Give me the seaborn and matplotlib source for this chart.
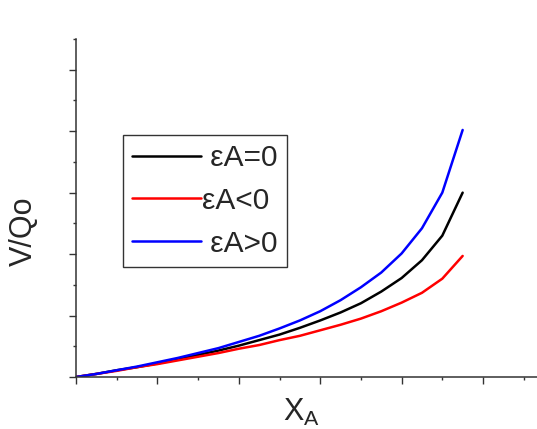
import matplotlib
matplotlib.use('Agg')
import matplotlib.pyplot as plt
from matplotlib.ticker import MultipleLocator, NullFormatter
import seaborn as sns
import pandas as pd

# conversion X_A (steps of 0.05)
x_a = [0.00, 0.05, 0.10, 0.15, 0.20, 0.25, 0.30, 0.35, 0.40, 0.45,
       0.50, 0.55, 0.60, 0.65, 0.70, 0.75, 0.80, 0.85, 0.90, 0.95]

# V/Qo for the three expansion cases
v_eps_zero = [0.00, 0.05, 0.11, 0.16, 0.22, 0.29, 0.36, 0.43, 0.51, 0.60,
              0.69, 0.80, 0.92, 1.05, 1.20, 1.39, 1.61, 1.90, 2.30, 3.00]
v_eps_neg = [0.00, 0.05, 0.10, 0.16, 0.21, 0.27, 0.33, 0.39, 0.46, 0.52,
             0.60, 0.67, 0.76, 0.85, 0.95, 1.07, 1.21, 1.37, 1.60, 1.97]
v_eps_pos = [0.00, 0.05, 0.11, 0.17, 0.24, 0.31, 0.39, 0.47, 0.57, 0.67,
             0.79, 0.92, 1.07, 1.25, 1.46, 1.70, 2.01, 2.42, 3.00, 4.02]

labels = [' εA=0', 'εA<0', ' εA>0']
colors = ['black', 'red', 'blue']

df = pd.DataFrame({'x': x_a * 3,
                   'v': v_eps_zero + v_eps_neg + v_eps_pos,
                   'case': [labels[0]] * len(x_a) + [labels[1]] * len(x_a) + [labels[2]] * len(x_a)})

sns.set_style('ticks')
plt.rcParams['font.family'] = ['Liberation Sans', 'DejaVu Sans']
plt.rcParams['mathtext.default'] = 'regular'

fig = plt.figure(figsize=(5.37, 4.29), dpi=100)
ax = fig.add_axes([76 / 537, 52 / 429, 461 / 537, 338 / 429])

sns.lineplot(data=df, x='x', y='v', hue='case', hue_order=labels,
             palette=dict(zip(labels, colors)), linewidth=1.8, ax=ax, legend=False)

ax.set_xlim(0, 461 / 407)
ax.set_ylim(0, 5.5)
ax.xaxis.set_major_locator(MultipleLocator(0.2))
ax.xaxis.set_minor_locator(MultipleLocator(0.1))
ax.yaxis.set_major_locator(MultipleLocator(1))
ax.yaxis.set_minor_locator(MultipleLocator(0.5))
ax.xaxis.set_major_formatter(NullFormatter())
ax.yaxis.set_major_formatter(NullFormatter())
ax.tick_params(which='major', length=5, width=1, color='#333333', direction='out')
ax.tick_params(which='minor', length=2.5, width=1, color='#333333', direction='out')

sns.despine(ax=ax)
for side in ['left', 'bottom']:
    ax.spines[side].set_color('#333333')
    ax.spines[side].set_linewidth(1.1)

ax.set_ylabel('V/Qo', fontsize=22, va='center')
ax.yaxis.set_label_coords(-0.113, 0.43)
ax.set_xlabel(r'$X_A$', fontsize=22, va='top')
ax.xaxis.set_label_coords(0.488, -0.058)

leg = ax.legend(handles=ax.lines[:3], labels=labels, loc='upper left',
                bbox_to_anchor=(123 / 537, 294 / 429), bbox_transform=fig.transFigure,
                fontsize=21.5, handlelength=2.3, handletextpad=0.05, labelspacing=0.5,
                borderpad=0.3, borderaxespad=0, fancybox=False, framealpha=1)
leg.get_frame().set_edgecolor('#333333')
leg.get_frame().set_linewidth(1)

fig.savefig('out.png', dpi=100)
